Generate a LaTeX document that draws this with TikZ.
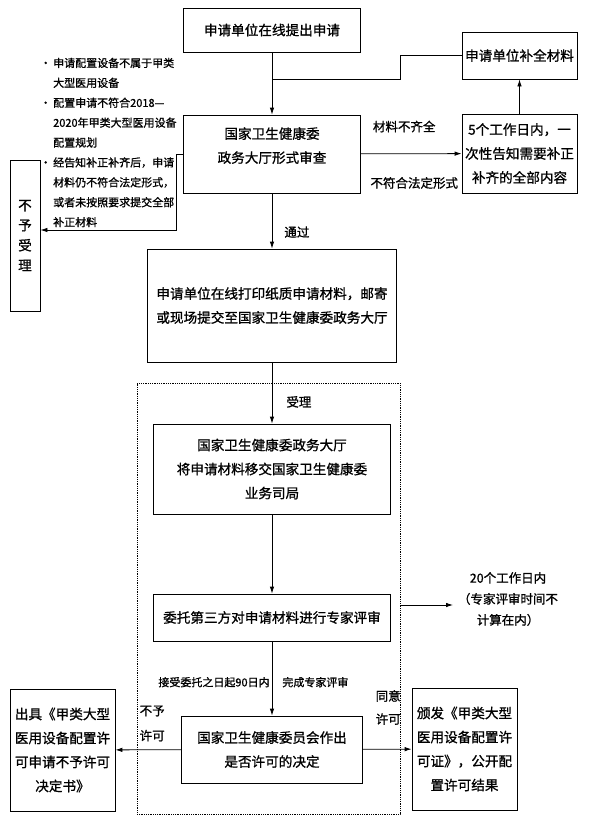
\documentclass[tikz,border=0pt]{standalone}
\usepackage{fontspec}
\setmainfont{Noto Sans CJK SC}[FakeBold=1]
\usepackage{tikz}
\usetikzlibrary{arrows.meta,calc}

\begin{document}
\begin{tikzpicture}[
        x=1pt, y=-1pt,
        box/.style={draw, line width=0.8pt, align=center, inner sep=0pt,
                    font=\fontsize{13.6}{24}\selectfont},
        lbl/.style={align=center, inner sep=0pt, font=\fontsize{12.5}{23}\selectfont},
        small/.style={inner sep=0pt, font=\fontsize{11}{13}\selectfont},
        frame/.style={draw, densely dotted, line width=0.8pt, inner sep=0pt},
        line/.style={line width=0.8pt},
        arr/.style={line, -{Latex[length=7pt,width=4.5pt]}}
    ]
        \useasboundingbox (0,0) rectangle (590,828);
        % online application and formal check
        \node[box, minimum width=177, minimum height=44] (apply)  at (272,30)    {申请单位在线提出申请};
        \node[box, minimum width=177, minimum height=78] (review) at (272,154)   {国家卫生健康委\\政务大厅形式审查\\[-6pt]};
        \node[box, minimum width=115, minimum height=47] (supply) at (519.5,55.5) {申请单位补全材料};
        \node[box, minimum width=115, minimum height=79] (notify) at (519.5,153.5)
              {5个工作日内，一\\次性告知需要补正\\补齐的全部内容};
        \node[box, minimum width=30, minimum height=151,
              font=\fontsize{13.6}{20}\selectfont] (reject) at (25,235.5) {不\\予\\受\\理};
        % reasons for refusal
        \def\bul{\makebox[13pt][l]{\textbullet}}
        \def\ind{\hspace*{13pt}}
        \node[anchor=west, align=left, inner sep=0pt,
              font=\fontsize{11}{19.9}\selectfont] (why) at (40,142.5)
              {\bul 申请配置设备不属于甲类\\\ind 大型医用设备\\
               \bul 配置申请不符合2018—\\\ind 2020年甲类大型医用设备\\\ind 配置规划\\
               \bul 经告知补正补齐后，申请\\\ind 材料仍不符合法定形式，\\
               \ind 或者未按照要求提交全部\\\ind 补正材料};
        \node[box, minimum width=249, minimum height=113] (print) at (272,305.5)
              {申请单位在线打印纸质申请材料，邮寄\\或现场提交至国家卫生健康委政务大厅};
        % accepted part (dotted frame)
        \node[frame, minimum width=263, minimum height=431] (accept) at (268.5,598.5) {};
        \node[box, minimum width=237, minimum height=90] (hall) at (272,469)
              {国家卫生健康委政务大厅\\将申请材料移交国家卫生健康委\\业务司局};
        \node[box, minimum width=237, minimum height=47] (expert) at (272,617.5)
              {委托第三方对申请材料进行专家评审};
        \node[box, minimum width=181, minimum height=67] (decide) at (272,749.5)
              {国家卫生健康委员会作出\\是否许可的决定};
        \node[box, minimum width=105, minimum height=122] (deny) at (62.5,750)
              {出具《甲类大型\\医用设备配置许\\可申请不予许可\\决定书》};
        \node[box, minimum width=105, minimum height=122] (grant) at (464.5,749)
              {颁发《甲类大型\\医用设备配置许\\可证》，公开配\\置许可结果};
        \node[lbl, font=\fontsize{12.5}{21}\selectfont] (days) at (508,599)
              {20个工作日内\\（专家评审时间不\\计算在内）};
        % connectors
        \coordinate (merge)  at (272,79);
        \coordinate (daytip) at (453,605);
        \draw[arr] (apply) -- (review);
        \draw[line] (supply.west) -- ++(-61,0) |- (merge);
        \draw[arr] (notify) -- (supply);
        \draw[arr] (review) -- (notify)
              node[lbl, pos=.43, above=21pt] {材料不齐全}
              node[lbl, pos=.53, below=23pt] {不符合法定形式};
        \draw[arr] (review.west) -- ++(-7,0) |- ([yshift=5.5pt]reject.east);
        \draw[arr] (review) -- (print) node[lbl, pos=.7, right=12pt] {通过};
        \draw[arr] (print) -- (hall) node[lbl, pos=.645, right=14pt] {受理};
        \draw[arr] (hall) -- (expert);
        \draw[arr] (accept.east |- daytip) -- (daytip);
        \draw[arr] (expert) -- (decide)
              node[small, pos=.55, left=2pt]  {接受委托之日起90日内}
              node[small, pos=.55, right=10pt] {完成专家评审};
        \draw[arr] (decide) -- (deny)
              node[lbl, pos=.44, above=8pt, font=\fontsize{12.5}{25}\selectfont] {不予\\许可};
        \draw[arr] (decide) -- (grant)
              node[lbl, pos=.52, above=24pt] {同意\\许可};
    \end{tikzpicture}
\end{document}
